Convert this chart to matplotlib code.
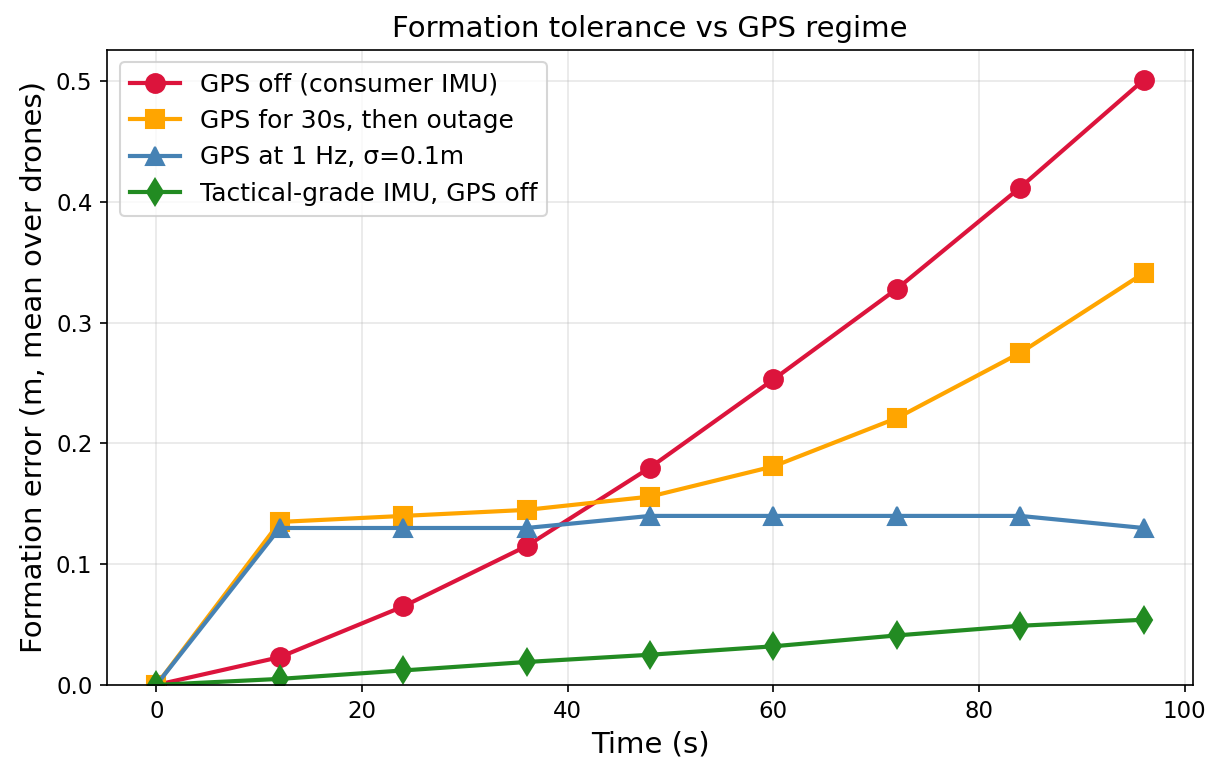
import matplotlib
matplotlib.use("Agg")
import matplotlib.pyplot as plt

time_s = [0, 12, 24, 36, 48, 60, 72, 84, 96]
gps_off = [0.0, 0.023, 0.065, 0.115, 0.180, 0.253, 0.328, 0.412, 0.501]
gps_30s = [0.0, 0.135, 0.140, 0.145, 0.156, 0.181, 0.221, 0.275, 0.341]
gps_1hz = [0.0, 0.130, 0.130, 0.130, 0.140, 0.140, 0.140, 0.140, 0.130]
tactical = [0.0, 0.005, 0.012, 0.019, 0.025, 0.032, 0.041, 0.049, 0.054]

labels = ["GPS off (consumer IMU)", "GPS for 30s, then outage",
          "GPS at 1 Hz, σ=0.1m", "Tactical-grade IMU, GPS off"]

fig, ax = plt.subplots(figsize=(1216/150, 767/150), dpi=150)
fig.subplots_adjust(left=0.088, right=0.981, top=0.935, bottom=0.107)

ax.plot(time_s, gps_off, marker='o', color='crimson', lw=2, ms=9, label=labels[0])
ax.plot(time_s, gps_30s, marker='s', color='orange', lw=2, ms=9, label=labels[1])
ax.plot(time_s, gps_1hz, marker='^', color='steelblue', lw=2, ms=9, label=labels[2])
ax.plot(time_s, tactical, marker='d', color='forestgreen', lw=2, ms=9, label=labels[3])

ax.set_ylim(bottom=0)
ax.tick_params(labelsize=11)
ax.set_xlabel("Time (s)", fontsize=14)
ax.set_ylabel("Formation error (m, mean over drones)", fontsize=14)
ax.set_title("Formation tolerance vs GPS regime", fontsize=14)
ax.grid(alpha=0.3)
ax.legend(loc='upper left', fontsize=12)

fig.savefig("out.png", dpi=150)
